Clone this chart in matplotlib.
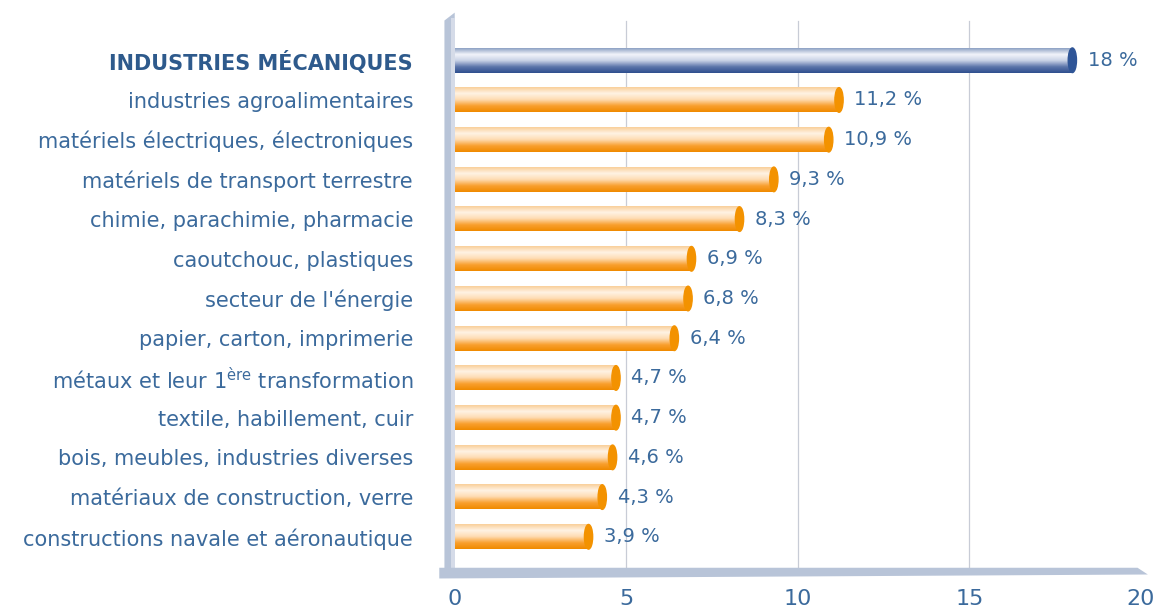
import matplotlib
matplotlib.use("Agg")
import matplotlib.pyplot as plt
import numpy as np
from matplotlib.colors import LinearSegmentedColormap
from matplotlib.patches import Ellipse, Rectangle, Polygon

categories = [
    "INDUSTRIES MÉCANIQUES",
    "industries agroalimentaires",
    "matériels électriques, électroniques",
    "matériels de transport terrestre",
    "chimie, parachimie, pharmacie",
    "caoutchouc, plastiques",
    "secteur de l'énergie",
    "papier, carton, imprimerie",
    "métaux et leur 1$^{\\rm ère}$ transformation",
    "textile, habillement, cuir",
    "bois, meubles, industries diverses",
    "matériaux de construction, verre",
    "constructions navale et aéronautique",
]
values = [18, 11.2, 10.9, 9.3, 8.3, 6.9, 6.8, 6.4, 4.7, 4.7, 4.6, 4.3, 3.9]
value_labels = ["18 %", "11,2 %", "10,9 %", "9,3 %", "8,3 %", "6,9 %", "6,8 %",
                "6,4 %", "4,7 %", "4,7 %", "4,6 %", "4,3 %", "3,9 %"]
xticks = [0, 5, 10, 15, 20]

plt.rcParams['font.family'] = ['DejaVu Sans']
plt.rcParams['mathtext.fontset'] = 'dejavusans'
text_color = "#3b6a9c"

fig = plt.figure(figsize=(11.6, 6.1), dpi=100)
ax = fig.add_axes([0.392, 0.066, 0.5916, 0.914])
ax.set_xlim(0, 20)
ax.set_ylim(12.83, -1.21)

orange_cmap = LinearSegmentedColormap.from_list(
    "o", ["#f9cf9a", "#fff3e4", "#fedcb2", "#f9a030", "#f08a00"])
blue_cmap = LinearSegmentedColormap.from_list(
    "b", ["#8ea2c4", "#f2f4fa", "#c9d2e6", "#5d76ab", "#2f4f8f"])

h = 0.62
grad = np.linspace(0, 1, 64).reshape(-1, 1)
for i, v in enumerate(values):
    cmap = blue_cmap if i == 0 else orange_cmap
    ax.imshow(grad, cmap=cmap, aspect="auto",
              extent=[0, v, i + h / 2, i - h / 2], zorder=3, interpolation="bilinear")
    cap = "#2f5597" if i == 0 else "#f39200"
    ax.add_patch(Ellipse((v, i), 0.24, h, color=cap, zorder=4))
    ax.text(v + 0.45, i, value_labels[i], va="center", ha="left",
            fontsize=14, color=text_color, zorder=5)

ax.set_yticks(range(len(categories)))
ax.set_yticklabels(categories)
for i, lab in enumerate(ax.get_yticklabels()):
    lab.set_color("#2e5a8c" if i == 0 else text_color)
    lab.set_fontsize(15)
    if i == 0:
        lab.set_fontweight("bold")
ax.tick_params(axis="y", length=0, pad=30)

ax.set_xticks(xticks)
ax.set_xticklabels([str(t) for t in xticks])
ax.tick_params(axis="x", length=0, pad=14, labelsize=16, labelcolor=text_color)

for t in xticks[1:4]:
    ax.axvline(t, ymax=0.985, color="#c8ccd6", lw=0.9, zorder=1)

for s in ax.spines.values():
    s.set_visible(False)

# left axis band
ax.add_patch(Polygon([(-0.3, 12.95), (-0.3, -1.0), (0, -1.2), (0, 12.95)],
                     facecolor="#b8c4d8", edgecolor="none", clip_on=False, zorder=2))
ax.add_patch(Rectangle((-0.12, 12.83), 0.12, -13.9,
                       facecolor="#d5dbe8", edgecolor="none", clip_on=False, zorder=2))
# bottom axis band
ax.add_patch(Polygon([(-0.45, 12.78), (19.9, 12.78), (20.2, 12.95), (-0.45, 13.05)],
                     facecolor="#b8c4d8", edgecolor="none", clip_on=False, zorder=2))

fig.savefig("out.png", dpi=100)
